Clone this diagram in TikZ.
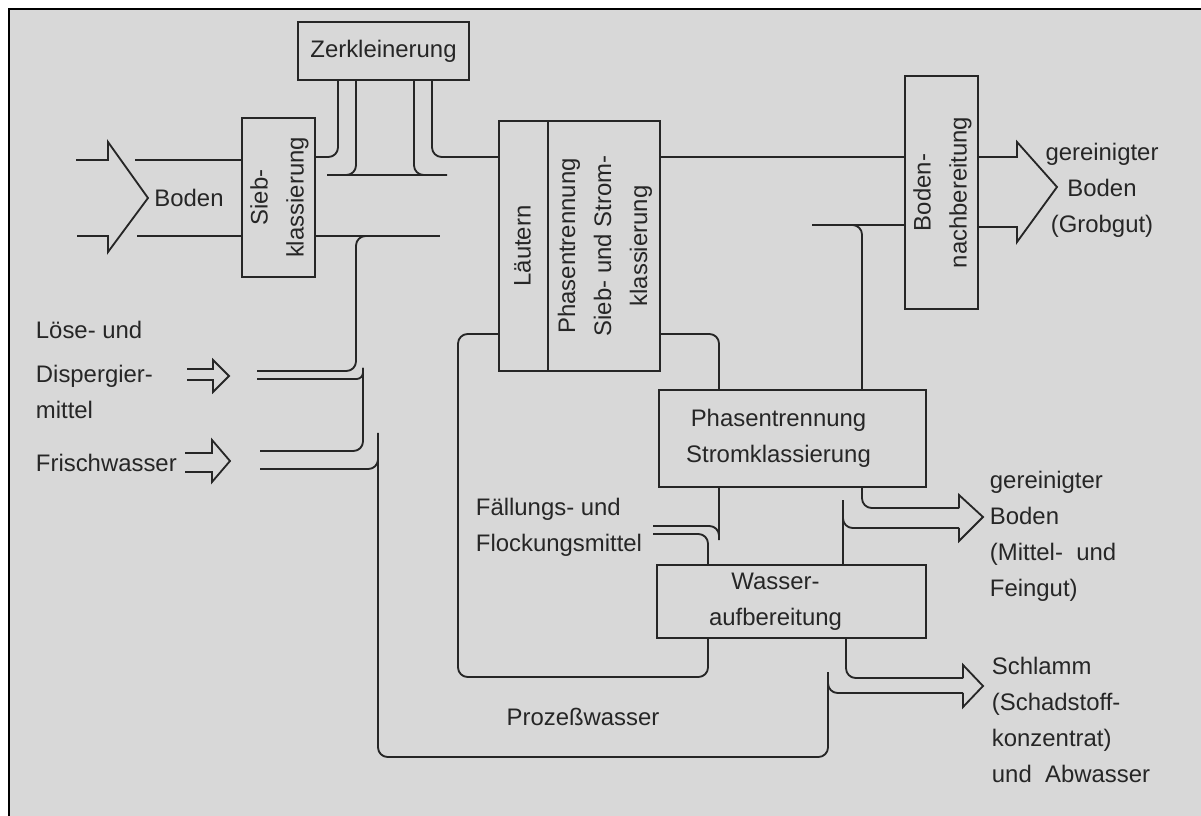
\documentclass[tikz,border=0pt]{standalone}
\usepackage{fontspec}
\usepackage{graphicx}
\setmainfont{Liberation Sans}

\definecolor{paper}{RGB}{216,216,216}
\definecolor{ink}{RGB}{38,38,38}

% text turned by 90 degrees, lines centred
\newcommand{\rottext}[1]{\rotatebox{90}{\begin{tabular}{@{}c@{}}#1\end{tabular}}}

\begin{document}
\begin{tikzpicture}[
        x=0.0125cm, y=-0.0125cm,
        every node/.style={text=ink, font=\fontsize{8.5}{12.8}\selectfont},
        proc_box/.style={rectangle, draw=ink, line width=0.7pt, inner sep=0pt, align=center},
        pipe/.style={draw=ink, line width=0.65pt, rounded corners=0.12cm},
        flow_arrow/.style={draw=ink, line width=0.65pt, line join=miter}
        ]
            \useasboundingbox (0,0) rectangle (1201,816);
            % paper and frame
            \fill[white] (0,0) rectangle (1201,816);
            \fill[paper] (9,9) rectangle (1201,816);
            \draw[black, line width=0.9pt] (9,816) -- (9,9) -- (1201,9);

            % process units
            \node[proc_box, minimum width=2.1375cm, minimum height=0.725cm]  (zerk)         at (383.5,51)   {Zerkleinerung};
            \node[proc_box, minimum width=0.9125cm, minimum height=1.9875cm] (sieb)         at (278.5,197.5) {\rottext{Sieb-\\klassierung}};
            \node[proc_box, minimum width=0.6125cm, minimum height=3.125cm]  (laeutern)     at (523.5,246)  {\rottext{Läutern}};
            \node[proc_box, minimum width=1.4cm,    minimum height=3.125cm]  (phasen_sieb)  at (604,246)    {\rottext{Phasentrennung\\Sieb- und Strom-\\klassierung}};
            \node[proc_box, minimum width=0.9125cm, minimum height=2.9125cm] (nachber)      at (941.5,192.5) {\rottext{Boden-\\nachbereitung}};
            \node[proc_box, minimum width=3.3375cm, minimum height=1.2125cm] (phasen_strom) at (792.5,438.5) {\hspace*{-0.35cm}Phasentrennung\\\hspace*{-0.35cm}Stromklassierung};
            \node[proc_box, minimum width=3.3625cm, minimum height=0.9125cm] (wasser)       at (791.5,601.5) {\hspace*{-0.4cm}Wasser-\\\hspace*{-0.4cm}aufbereitung};

            % free ends
            \coordinate (boden_in_top) at (76,160);
            \coordinate (boden_in_bot) at (77,236);
            \coordinate (feed_top)     at (135,160);
            \coordinate (feed_bot)     at (137,236);
            \coordinate (wash_end)     at (440,236);
            \coordinate (mani_l)       at (327,175);
            \coordinate (mani_r)       at (447,175);
            \coordinate (disp_in)      at (187,369);
            \coordinate (frisch_in)    at (185,453);
            \coordinate (disp_top)     at (257,371);
            \coordinate (disp_bot)     at (257,379);
            \coordinate (frisch_top)   at (260,451);
            \coordinate (frisch_bot)   at (260,469);
            \coordinate (faell_top)    at (653,526);
            \coordinate (faell_bot)    at (653,534);
            \coordinate (nach_ret)     at (812,225);
            \coordinate (fein_top)     at (959,508);
            \coordinate (fein_bot)     at (959,528);
            \coordinate (schl_top)     at (963,678);
            \coordinate (schl_bot)     at (963,693);

            % Boden feed
            \draw[flow_arrow] (boden_in_top) -- (108,160) -- (108,142) -- (148,198) -- (108,252) -- (108,236) -- (boden_in_bot);
            \node (boden_lbl) at (189,198) {Boden};
            \draw[pipe] (feed_top) -- (sieb.west |- feed_top);
            \draw[pipe] (feed_bot) -- (sieb.west |- feed_bot);

            % Zerkleinerung
            \draw[pipe] (sieb.east |- 0,157) -| (zerk.south -| 338,0);
            \draw[pipe] (zerk.south -| 356,0) |- (mani_l);
            \draw[pipe] (zerk.south -| 414,0) |- (mani_r);
            \draw[pipe] (mani_l) -- (mani_r);
            \draw[pipe] (zerk.south -| 432,0) |- (laeutern.west |- 0,157);

            % Grobgut line
            \draw[pipe] (phasen_sieb.east |- 0,157) -- (nachber.west |- 0,157);
            \draw[flow_arrow] (nachber.east |- 0,157) -- (1017,157) -- (1017,142) -- (1057,187) -- (1017,242) -- (1017,227) -- (nachber.east |- 0,227);
            \draw[pipe] (phasen_strom.north -| 862,0) |- (nach_ret);
            \draw[pipe] (845,225) -- (nachber.west |- 0,225);

            % water feeds
            \draw[pipe] (sieb.east |- feed_bot) -- (wash_end);
            \draw[pipe] (disp_top) -| (356,236) -- (380,236);
            \draw[pipe, rounded corners=0.08cm] (disp_bot) -| (363,368);
            \draw[pipe] (363,368) |- (frisch_top);
            \draw[pipe] (frisch_bot) -| (378,440);
            \draw[flow_arrow] (disp_in) -- (213,369) -- (213,360) -- (229,376) -- (213,392) -- (213,380) -- (187,380);
            \draw[flow_arrow] (frisch_in) -- (212,453) -- (212,440) -- (230,461) -- (212,482) -- (212,472) -- (185,472);

            % process water loops
            \draw[pipe] (378,433) |- (828,757) -- (828,672);
            \draw[pipe] (laeutern.west |- 0,334) -| (458,677) -| (wasser.south -| 708,0);
            \draw[pipe] (phasen_sieb.east |- 0,334) -| (phasen_strom.north -| 719,0);

            % flocculant
            \draw[pipe] (phasen_strom.south -| 719,0) -- (719,540);
            \draw[pipe] (faell_top) -| (719,540);
            \draw[pipe] (faell_bot) -| (wasser.north -| 708,0);

            % Mittel- und Feingut
            \draw[pipe] (phasen_strom.south -| 862,0) |- (fein_top);
            \draw[pipe] (843,500) -- (wasser.north -| 843,0);
            \draw[pipe] (843,515) |- (fein_bot);
            \draw[flow_arrow] (fein_top) -- (959,495) -- (983,517) -- (959,541) -- (fein_bot);

            % Schlamm
            \draw[pipe] (wasser.south -| 846,0) |- (schl_top);
            \draw[pipe] (828,672) |- (schl_bot);
            \draw[flow_arrow] (schl_top) -- (963,665) -- (983,686) -- (963,707) -- (schl_bot);

            % text
            \node[align=left, anchor=west] (loese_lbl)   at (26,370)   {Löse- und\\[3pt]Dispergier-\\mittel};
            \node[anchor=west]             (frisch_lbl)  at (26,463)   {Frischwasser};
            \node[align=left, anchor=west] (faell_lbl)   at (466,527)  {Fällungs- und\\Flockungsmittel};
            \node                          (prozess_lbl) at (583,717)  {Prozeßwasser};
            \node[align=center]            (grob_lbl)    at (1102,190) {gereinigter\\Boden\\(Grobgut)};
            \node[align=left, anchor=west] (fein_lbl)    at (980,536)  {gereinigter\\Boden\\(Mittel-~~und\\Feingut)};
            \node[align=left, anchor=west] (schlamm_lbl) at (982,720)  {Schlamm\\(Schadstoff-\\konzentrat)\\und~~Abwasser};
        \end{tikzpicture}
\end{document}
